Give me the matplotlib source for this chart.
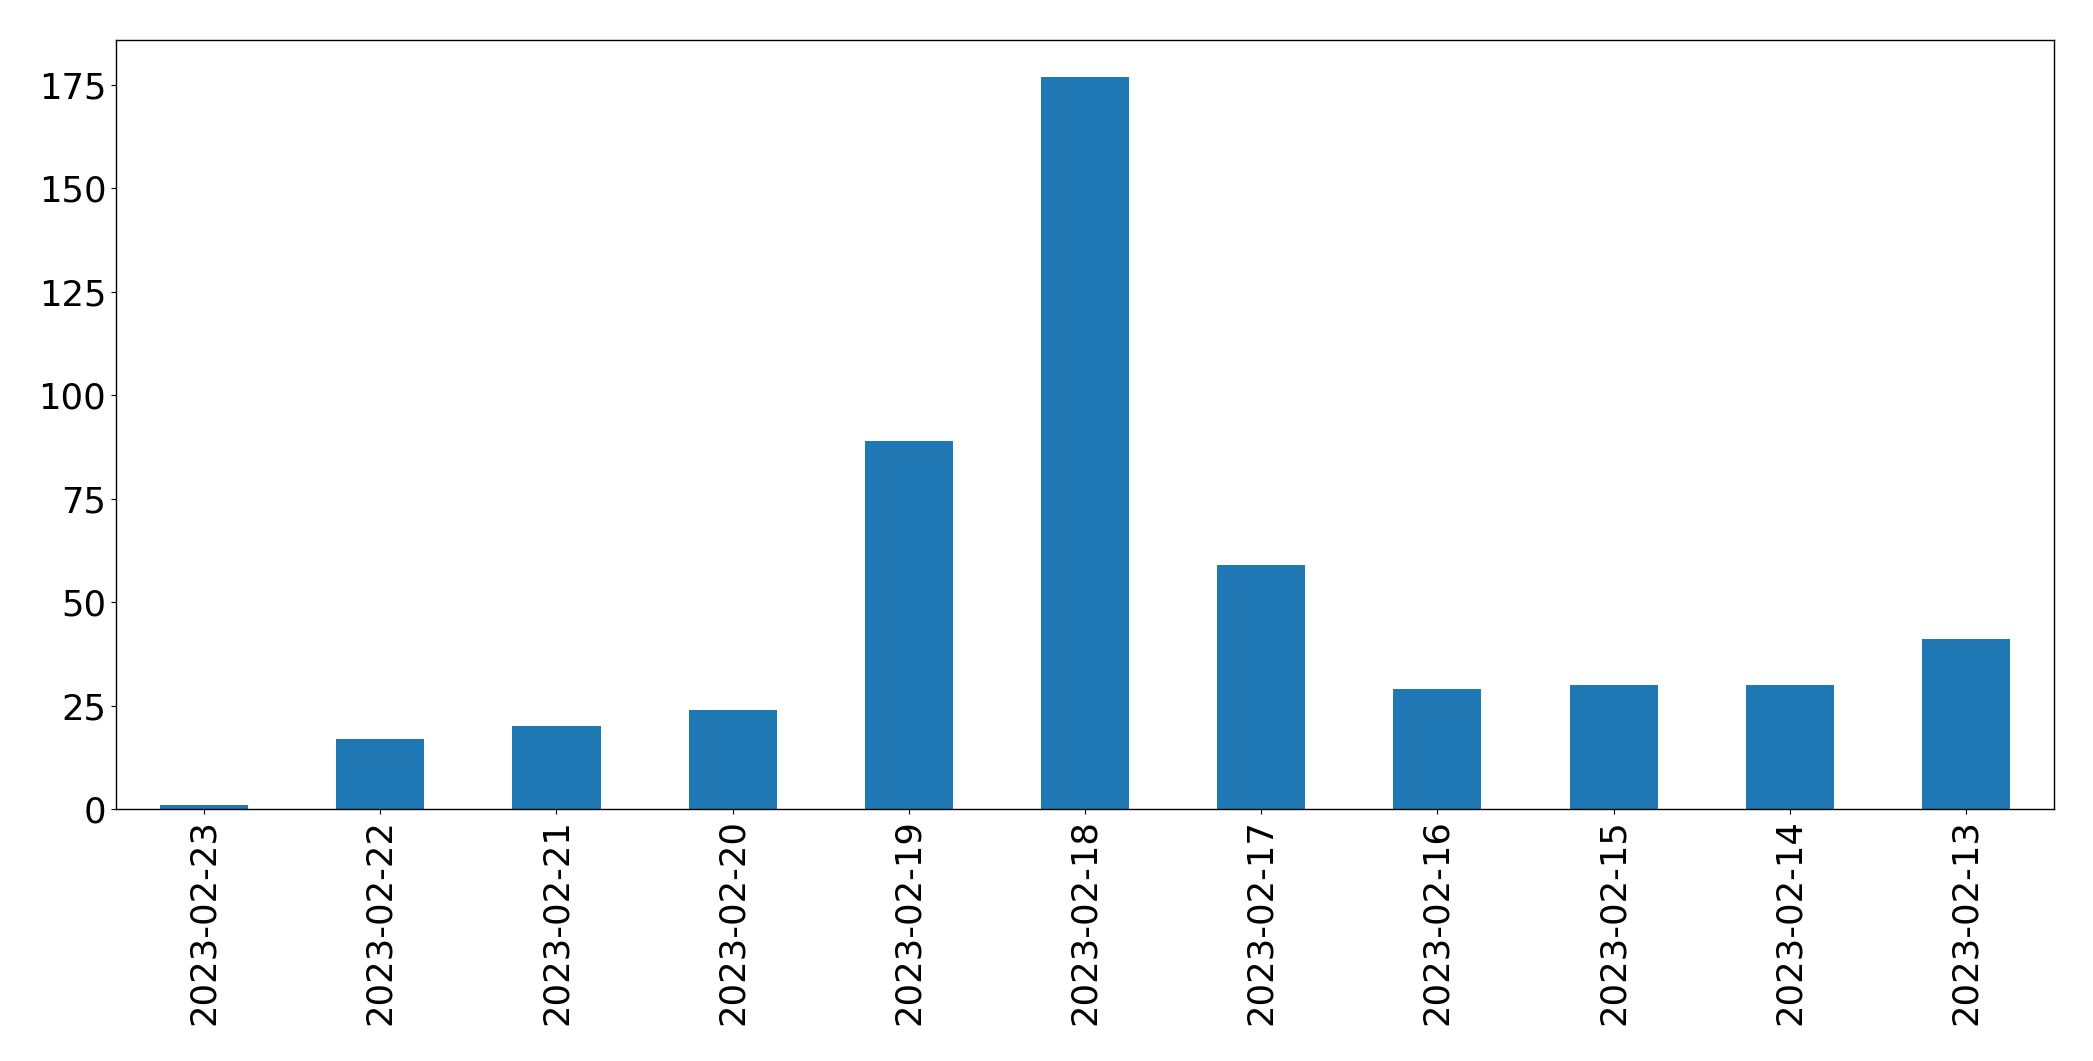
"""
Daily counts bar chart (pandas-style bar plot)
"""
import matplotlib
matplotlib.use("Agg")
import matplotlib.pyplot as plt

dates = ["2023-02-23", "2023-02-22", "2023-02-21", "2023-02-20", "2023-02-19",
         "2023-02-18", "2023-02-17", "2023-02-16", "2023-02-15", "2023-02-14",
         "2023-02-13"]
counts = [1, 17, 20, 24, 89, 177, 59, 29, 30, 30, 41]

fig = plt.figure(figsize=(20.93, 10.61), dpi=100)
ax = fig.add_axes([116 / 2093, 1 - 809 / 1061, (2054 - 116) / 2093, (809 - 40) / 1061])

x = range(len(dates))
ax.bar(x, counts, width=0.5, color="#1f77b4")
ax.set_xlim(-0.5, len(dates) - 0.5)
ax.set_ylim(0, max(counts) * 1.05)
ax.set_xticks(list(x))
ax.set_xticklabels(dates, rotation=90)
ax.tick_params(labelsize=25.5)
for spine in ax.spines.values():
    spine.set_linewidth(1.0)

fig.savefig("out.png", dpi=100)
